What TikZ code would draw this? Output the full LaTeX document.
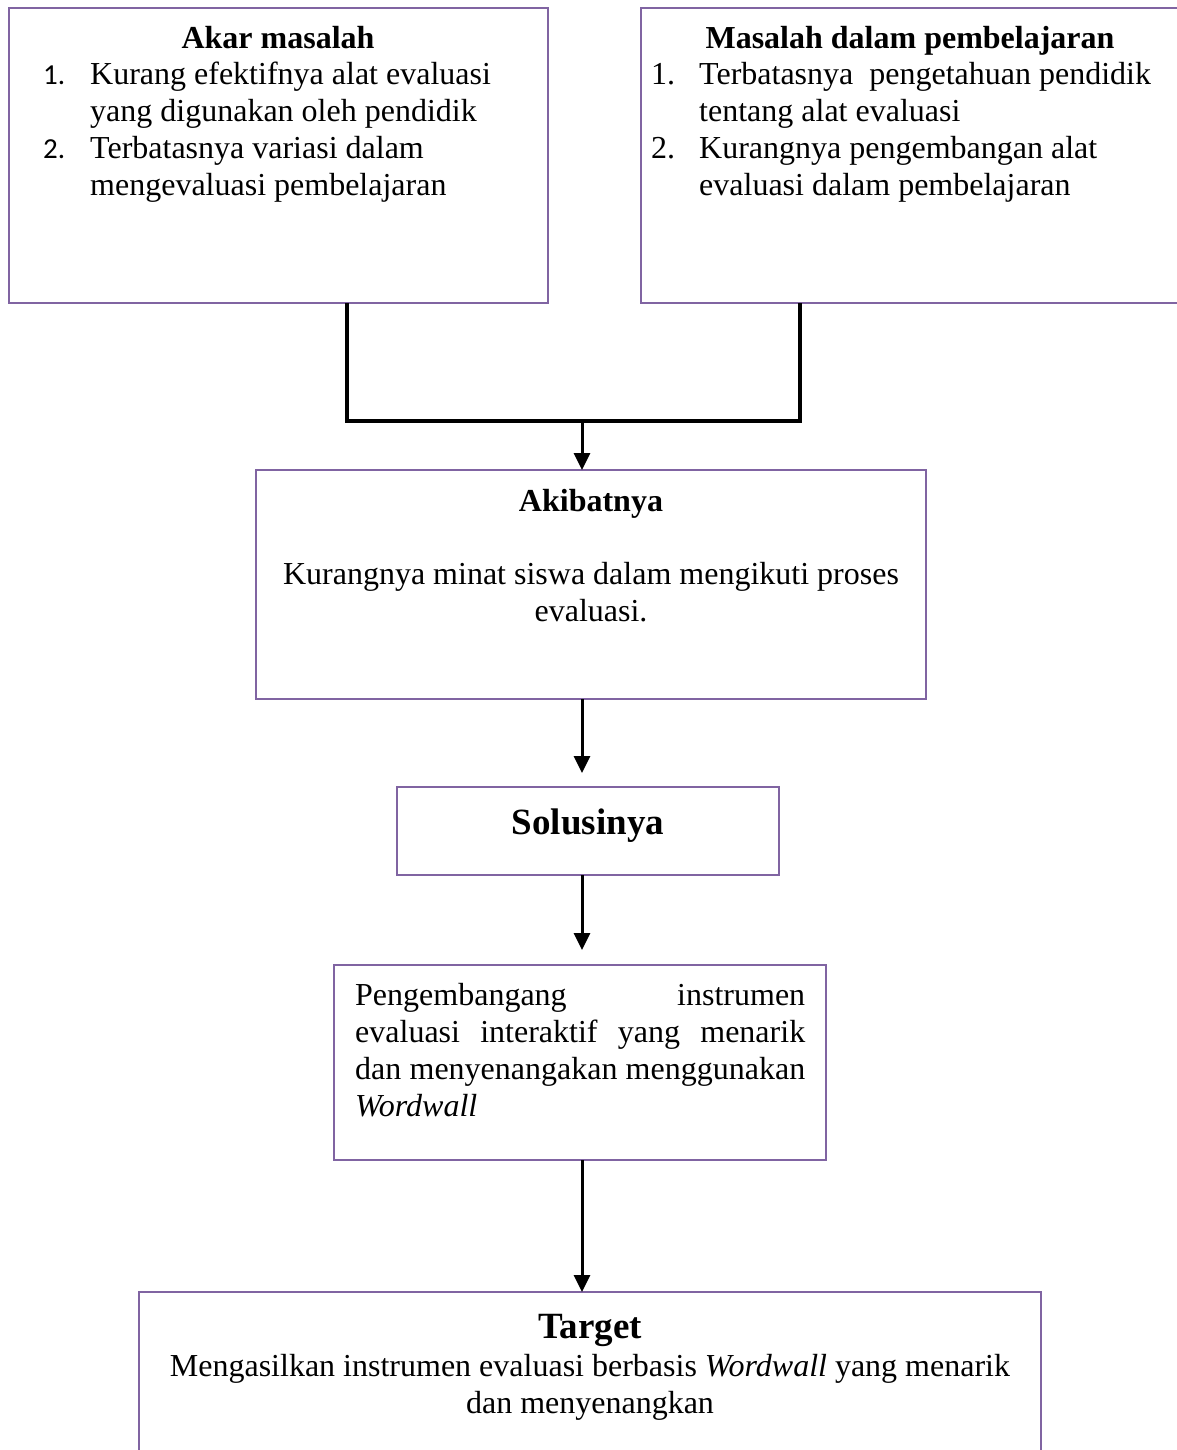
\documentclass[tikz,border=0pt]{standalone}
\usepackage{fontspec}
\setmainfont{Liberation Serif}
\newfontfamily\calibrifnt{Carlito}
\usetikzlibrary{arrows.meta}
\definecolor{boxpurple}{HTML}{8064A2}
\newcommand{\txtfnt}{\fontsize{32}{37}\selectfont}
\newcommand{\bigfnt}{\fontsize{37}{42}\selectfont\bfseries}
\begin{document}
\begin{tikzpicture}[x=1pt,y=-1pt,
  box/.style={draw=boxpurple, line width=2pt, inner sep=0pt, outer sep=0pt},
  lw/.style={inner sep=0pt, anchor=base west, font=\txtfnt},
  lc/.style={inner sep=0pt, anchor=base, font=\txtfnt},
  hd/.style={inner sep=0pt, anchor=base, font=\txtfnt\bfseries},
  hb/.style={inner sep=0pt, anchor=base, font=\bigfnt},
  num/.style={inner sep=0pt, anchor=base west, font=\calibrifnt\fontsize{29}{37}\selectfont},
  conn/.style={line width=3.5pt, line join=miter},
  arr/.style={line width=3pt, -{Triangle[length=17pt,width=16pt]}}]
\useasboundingbox (0,0) rectangle (1177,1450);
\fill[white] (0,0) rectangle (1177,1450);
\clip (0,0) rectangle (1177,1450);

% boxes
\node[box, minimum width=539pt, minimum height=295pt] (A) at (278.5,155.5) {};
\node[box, minimum width=549pt, minimum height=295pt] (B) at (915.5,155.5) {};
\node[box, minimum width=670pt, minimum height=229pt] (C) at (591,584.5) {};
\node[box, minimum width=382pt, minimum height=88pt] (D) at (588,831) {};
\node[box, minimum width=492pt, minimum height=195pt] (E) at (580,1062.5) {};
\node[box, minimum width=902pt, minimum height=173pt] (F) at (590,1378.5) {};

% box A text
\node[hd] (a0) at (278,49) {Akar masalah};
\node[num] (an1) at (43,85) {1.};
\node[lw] (a1) at (90,85) {Kurang efektifnya alat evaluasi};
\node[lw] (a2) at (90,122) {yang digunakan oleh pendidik};
\node[num] (an2) at (43,159) {2.};
\node[lw] (a3) at (90,159) {Terbatasnya variasi dalam};
\node[lw] (a4) at (90,196) {mengevaluasi pembelajaran};

% box B text
\node[hd] (b0) at (910,49) {Masalah dalam pembelajaran};
\node[lw] (bn1) at (651,85) {1.};
\node[lw] (b1) at (699,85) {Terbatasnya\ \ pengetahuan pendidik};
\node[lw] (b2) at (699,122) {tentang alat evaluasi};
\node[lw] (bn2) at (651,159) {2.};
\node[lw] (b3) at (699,159) {Kurangnya pengembangan alat};
\node[lw] (b4) at (699,196) {evaluasi dalam pembelajaran};

% box C text
\node[hd] (c0) at (591,511) {Akibatnya};
\node[lc] (c1) at (591,584) {Kurangnya minat siswa dalam mengikuti proses};
\node[lc] (c2) at (591,621) {evaluasi.};

% box D text
\node[hb] (d0) at (588,834) {Solusinya};

% box E text
\node[lw] (e1) at (355,1005) {\makebox[450pt][s]{Pengembangang instrumen}};
\node[lw] (e2) at (355,1042) {\makebox[450pt][s]{evaluasi interaktif yang menarik}};
\node[lw] (e3) at (355,1079) {\makebox[450pt][s]{dan menyenangakan menggunakan}};
\node[lw] (e4) at (355,1116) {\textit{Wordwall}};

% box F text
\node[hb] (f0) at (590,1338) {Target};
\node[lc] (f1) at (590,1376) {Mengasilkan instrumen evaluasi berbasis \textit{Wordwall} yang menarik};
\node[lc] (f2) at (590,1413) {dan menyenangkan};

% connectors
\coordinate (ja) at (347,421);
\coordinate (jb) at (800,421);
\coordinate (jm) at (582,421);
\draw[conn] (A.south -| ja) -- (ja) -- (jb) -- (B.south -| jb);
\draw[arr] (jm) -- (C.north -| jm);
\draw[arr, shorten >=14pt] (C.south -| jm) -- (D.north -| jm);
\draw[arr, shorten >=15pt] (D.south -| jm) -- (E.north -| jm);
\draw[arr] (E.south -| jm) -- (F.north -| jm);
\end{tikzpicture}
\end{document}
